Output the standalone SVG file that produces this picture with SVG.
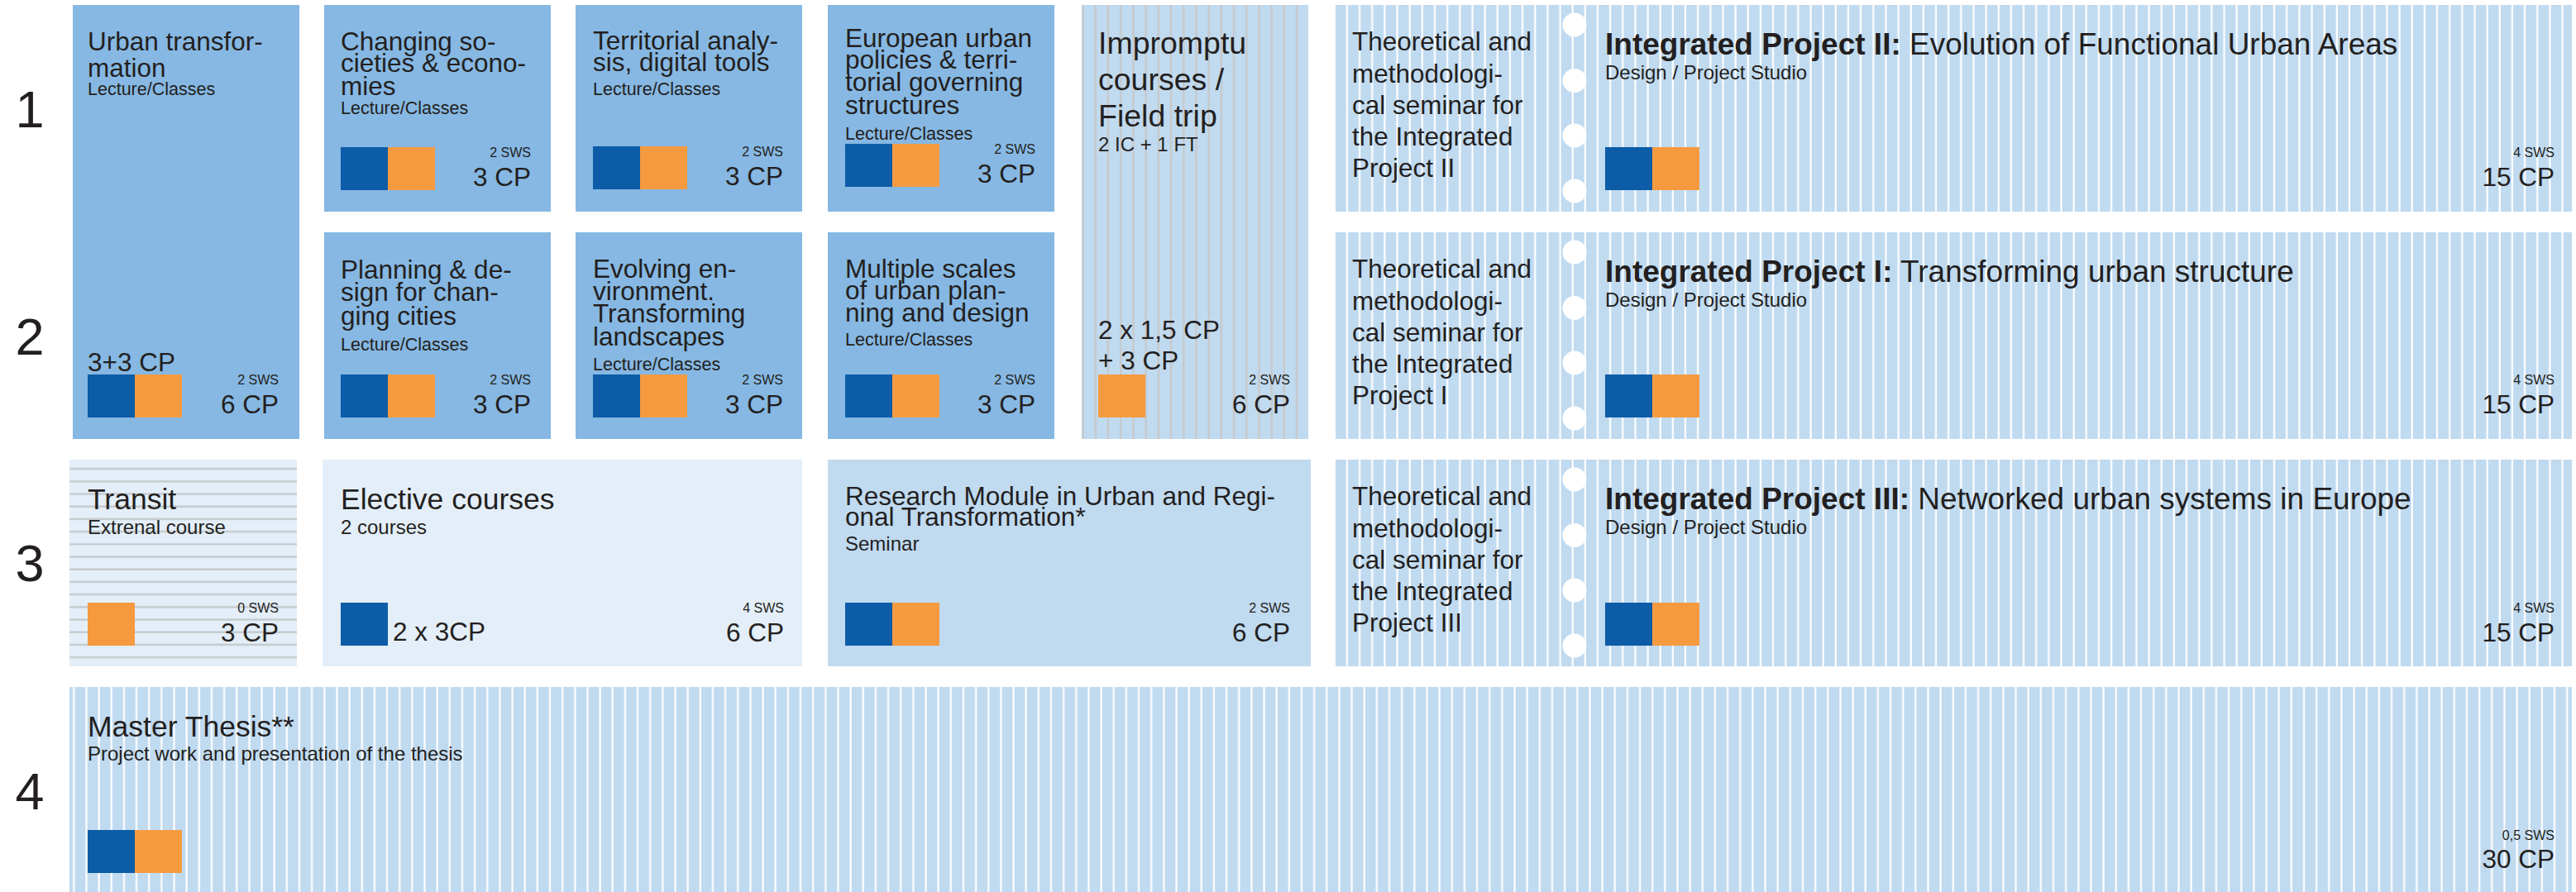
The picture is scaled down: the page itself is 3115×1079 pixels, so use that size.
<svg xmlns="http://www.w3.org/2000/svg" width="3115" height="1079" viewBox="0 0 3115 1079">
<style>
text{font-family:"Liberation Sans",Arial,Helvetica,sans-serif;fill:#231f20}
.num{font-size:63px;text-anchor:middle}
.h{font-size:31.5px}
.big{font-size:35.5px}
.imp{font-size:37.5px}
.ip{font-size:37px}
.sub{font-size:21.5px}
.sub2{font-size:24px}
.sws{font-size:16px;text-anchor:end}
.cp{font-size:31.5px;text-anchor:end}
.mid{fill:#86b8e3}
.lt{fill:#c0daf0}
.vlt{fill:#e3eef8}
.db{fill:#0c5ca7}
.or{fill:#f69a40}
.hole{fill:#ffffff}
</style>
<defs>
<pattern id="pvip" patternUnits="userSpaceOnUse" x="1615" y="0" width="15.15" height="20">
<rect width="15.15" height="20" fill="#c0daf0"/>
<rect x="12.9" width="2.2" height="20" fill="#ffffff"/>
</pattern>
<pattern id="pvm" patternUnits="userSpaceOnUse" x="84" y="0" width="15.15" height="20">
<rect width="15.15" height="20" fill="#c0daf0"/>
<rect x="4.2" width="2.2" height="20" fill="#ffffff"/>
</pattern>
<pattern id="pgrey" patternUnits="userSpaceOnUse" x="1308" y="0" width="15.2" height="20">
<rect width="15.2" height="20" fill="#c0daf0"/>
<rect x="0.5" width="2.4" height="20" fill="#c6c9cb"/>
</pattern>
<pattern id="phor" patternUnits="userSpaceOnUse" x="0" y="556" width="20" height="15.2">
<rect width="20" height="15.2" fill="#e3eef8"/>
<rect y="10" width="20" height="2.2" fill="#c3c7ca"/>
</pattern>
</defs>

<g id="row-numbers">
<text class="num" x="36" y="154">1</text>
<text class="num" x="36" y="429">2</text>
<text class="num" x="36" y="703">3</text>
<text class="num" x="36" y="979">4</text>
</g>

<g id="urban-transformation">
<rect class="mid" x="88" y="6" width="274" height="525"/>
<text class="h" x="106" y="61">Urban transfor-</text>
<text class="h" x="106" y="93">mation</text>
<text class="sub" x="106" y="115">Lecture/Classes</text>
<text class="h" x="106" y="449">3+3 CP</text>
<rect class="db" x="106" y="453" width="57" height="52"/>
<rect class="or" x="163" y="453" width="57" height="52"/>
<text class="sws" x="337" y="465">2 SWS</text>
<text class="cp" x="337" y="499.5">6 CP</text>
</g>

<g id="changing-societies">
<rect class="mid" x="392" y="6" width="274" height="250"/>
<text class="h" x="412" y="61">Changing so-</text>
<text class="h" x="412" y="87">cieties &amp; econo-</text>
<text class="h" x="412" y="115">mies</text>
<text class="sub" x="412" y="138">Lecture/Classes</text>
<rect class="db" x="412" y="178" width="57" height="52"/>
<rect class="or" x="469" y="178" width="57" height="52"/>
<text class="sws" x="642" y="190">2 SWS</text>
<text class="cp" x="642" y="224.5">3 CP</text>
</g>

<g id="territorial-analysis">
<rect class="mid" x="696" y="6" width="274" height="250"/>
<text class="h" x="717" y="60">Territorial analy-</text>
<text class="h" x="717" y="86">sis, digital tools</text>
<text class="sub" x="717" y="115">Lecture/Classes</text>
<rect class="db" x="717" y="177" width="57" height="52"/>
<rect class="or" x="774" y="177" width="57" height="52"/>
<text class="sws" x="947" y="189">2 SWS</text>
<text class="cp" x="947" y="223.5">3 CP</text>
</g>

<g id="european-urban-policies">
<rect class="mid" x="1001" y="6" width="274" height="250"/>
<text class="h" x="1022" y="57">European urban</text>
<text class="h" x="1022" y="83">policies &amp; terri-</text>
<text class="h" x="1022" y="109.5">torial governing</text>
<text class="h" x="1022" y="137.5">structures</text>
<text class="sub" x="1022" y="168.5">Lecture/Classes</text>
<rect class="db" x="1022" y="174" width="57" height="52"/>
<rect class="or" x="1079" y="174" width="57" height="52"/>
<text class="sws" x="1252" y="186">2 SWS</text>
<text class="cp" x="1252" y="220.5">3 CP</text>
</g>

<g id="impromptu-courses">
<rect x="1308" y="6" width="274" height="525" fill="url(#pgrey)"/>
<text class="imp" x="1328" y="65">Impromptu</text>
<text class="imp" x="1328" y="108.5">courses /</text>
<text class="imp" x="1328" y="153">Field trip</text>
<text class="sub2" x="1328" y="182.5">2 IC + 1 FT</text>
<text class="h" x="1328" y="410">2 x 1,5 CP</text>
<text class="h" x="1328" y="447">+ 3 CP</text>
<rect class="or" x="1328" y="453" width="57" height="52"/>
<text class="sws" x="1560" y="465">2 SWS</text>
<text class="cp" x="1560" y="499.5">6 CP</text>
</g>

<g id="integrated-project-2">
<rect x="1615" y="6" width="1495" height="250" fill="url(#pvip)"/>
<circle class="hole" cx="1904" cy="30" r="14.5"/>
<circle class="hole" cx="1904" cy="97.5" r="14.5"/>
<circle class="hole" cx="1904" cy="164" r="14.5"/>
<circle class="hole" cx="1904" cy="231" r="14.5"/>
<text class="h" x="1635" y="61">Theoretical and</text>
<text class="h" x="1635" y="100">methodologi-</text>
<text class="h" x="1635" y="138">cal seminar for</text>
<text class="h" x="1635" y="176">the Integrated</text>
<text class="h" x="1635" y="214">Project II</text>
<text class="ip" x="1941" y="66"><tspan font-weight="bold">Integrated Project II:</tspan> Evolution of Functional Urban Areas</text>
<text class="sub2" x="1941" y="96">Design / Project Studio</text>
<rect class="db" x="1941" y="178" width="57" height="52"/>
<rect class="or" x="1998" y="178" width="57" height="52"/>
<text class="sws" x="3089" y="190">4 SWS</text>
<text class="cp" x="3089" y="224.5">15 CP</text>
</g>

<g id="planning-design">
<rect class="mid" x="392" y="281" width="274" height="250"/>
<text class="h" x="412" y="337">Planning &amp; de-</text>
<text class="h" x="412" y="364">sign for chan-</text>
<text class="h" x="412" y="393">ging cities</text>
<text class="sub" x="412" y="424">Lecture/Classes</text>
<rect class="db" x="412" y="453" width="57" height="52"/>
<rect class="or" x="469" y="453" width="57" height="52"/>
<text class="sws" x="642" y="465">2 SWS</text>
<text class="cp" x="642" y="499.5">3 CP</text>
</g>

<g id="evolving-environment">
<rect class="mid" x="696" y="281" width="274" height="250"/>
<text class="h" x="717" y="336">Evolving en-</text>
<text class="h" x="717" y="363">vironment.</text>
<text class="h" x="717" y="390">Transforming</text>
<text class="h" x="717" y="418">landscapes</text>
<text class="sub" x="717" y="448">Lecture/Classes</text>
<rect class="db" x="717" y="453" width="57" height="52"/>
<rect class="or" x="774" y="453" width="57" height="52"/>
<text class="sws" x="947" y="465">2 SWS</text>
<text class="cp" x="947" y="499.5">3 CP</text>
</g>

<g id="multiple-scales">
<rect class="mid" x="1001" y="281" width="274" height="250"/>
<text class="h" x="1022" y="336">Multiple scales</text>
<text class="h" x="1022" y="362">of urban plan-</text>
<text class="h" x="1022" y="389">ning and design</text>
<text class="sub" x="1022" y="418">Lecture/Classes</text>
<rect class="db" x="1022" y="453" width="57" height="52"/>
<rect class="or" x="1079" y="453" width="57" height="52"/>
<text class="sws" x="1252" y="465">2 SWS</text>
<text class="cp" x="1252" y="499.5">3 CP</text>
</g>

<g id="integrated-project-1">
<rect x="1615" y="281" width="1495" height="250" fill="url(#pvip)"/>
<circle class="hole" cx="1904" cy="305" r="14.5"/>
<circle class="hole" cx="1904" cy="372.5" r="14.5"/>
<circle class="hole" cx="1904" cy="439" r="14.5"/>
<circle class="hole" cx="1904" cy="506" r="14.5"/>
<text class="h" x="1635" y="336">Theoretical and</text>
<text class="h" x="1635" y="375">methodologi-</text>
<text class="h" x="1635" y="413">cal seminar for</text>
<text class="h" x="1635" y="451">the Integrated</text>
<text class="h" x="1635" y="489">Project I</text>
<text class="ip" x="1941" y="341"><tspan font-weight="bold">Integrated Project I:</tspan> Transforming urban structure</text>
<text class="sub2" x="1941" y="371">Design / Project Studio</text>
<rect class="db" x="1941" y="453" width="57" height="52"/>
<rect class="or" x="1998" y="453" width="57" height="52"/>
<text class="sws" x="3089" y="465">4 SWS</text>
<text class="cp" x="3089" y="499.5">15 CP</text>
</g>

<g id="transit">
<rect x="84" y="556" width="275" height="250" fill="url(#phor)"/>
<text class="big" x="106" y="616">Transit</text>
<text class="sub2" x="106" y="645.5">Extrenal course</text>
<rect class="or" x="106" y="729" width="57" height="52"/>
<text class="sws" x="337" y="741">0 SWS</text>
<text class="cp" x="337" y="775.5">3 CP</text>
</g>

<g id="elective-courses">
<rect class="vlt" x="390" y="556" width="580" height="250"/>
<text class="big" x="412" y="616">Elective courses</text>
<text class="sub2" x="412" y="645.5">2 courses</text>
<rect class="db" x="412" y="729" width="57" height="52"/>
<text class="h" x="475" y="774.5">2 x 3CP</text>
<text class="sws" x="948" y="741">4 SWS</text>
<text class="cp" x="948" y="775.5">6 CP</text>
</g>

<g id="research-module">
<rect class="lt" x="1001" y="556" width="584" height="250"/>
<text class="h" x="1022" y="611">Research Module in Urban and Regi-</text>
<text class="h" x="1022" y="636">onal Transformation*</text>
<text class="sub2" x="1022" y="666">Seminar</text>
<rect class="db" x="1022" y="729" width="57" height="52"/>
<rect class="or" x="1079" y="729" width="57" height="52"/>
<text class="sws" x="1560" y="741">2 SWS</text>
<text class="cp" x="1560" y="775.5">6 CP</text>
</g>

<g id="integrated-project-3">
<rect x="1615" y="556" width="1495" height="250" fill="url(#pvip)"/>
<circle class="hole" cx="1904" cy="580" r="14.5"/>
<circle class="hole" cx="1904" cy="647.5" r="14.5"/>
<circle class="hole" cx="1904" cy="714" r="14.5"/>
<circle class="hole" cx="1904" cy="781" r="14.5"/>
<text class="h" x="1635" y="611">Theoretical and</text>
<text class="h" x="1635" y="650">methodologi-</text>
<text class="h" x="1635" y="688">cal seminar for</text>
<text class="h" x="1635" y="726">the Integrated</text>
<text class="h" x="1635" y="764">Project III</text>
<text class="ip" x="1941" y="616"><tspan font-weight="bold">Integrated Project III:</tspan> Networked urban systems in Europe</text>
<text class="sub2" x="1941" y="645.5">Design / Project Studio</text>
<rect class="db" x="1941" y="729" width="57" height="52"/>
<rect class="or" x="1998" y="729" width="57" height="52"/>
<text class="sws" x="3089" y="741">4 SWS</text>
<text class="cp" x="3089" y="775.5">15 CP</text>
</g>

<g id="master-thesis">
<rect x="84" y="831" width="3026" height="248" fill="url(#pvm)"/>
<text class="big" x="106" y="891">Master Thesis**</text>
<text class="sub2" x="106" y="920">Project work and presentation of the thesis</text>
<rect class="db" x="106" y="1004" width="57" height="52"/>
<rect class="or" x="163" y="1004" width="57" height="52"/>
<text class="sws" x="3089" y="1016">0,5 SWS</text>
<text class="cp" x="3089" y="1050">30 CP</text>
</g>
</svg>
